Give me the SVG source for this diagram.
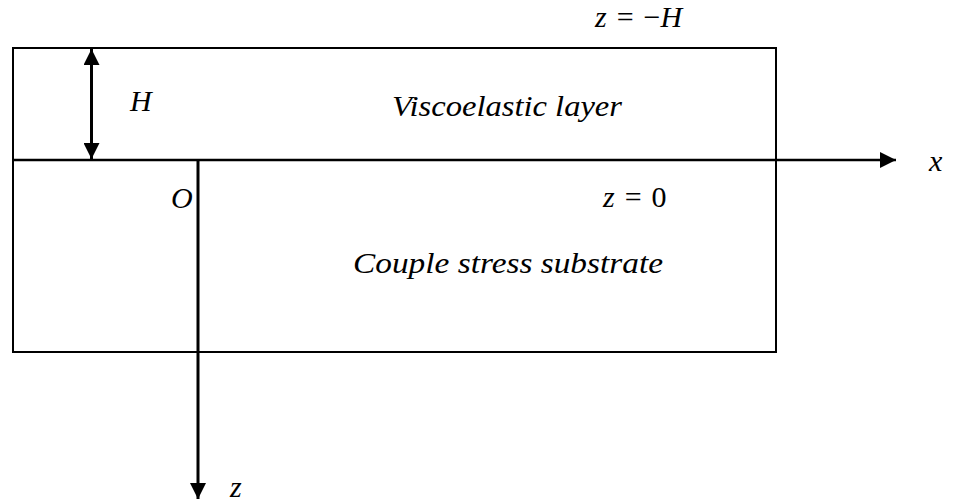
<svg xmlns="http://www.w3.org/2000/svg" width="953" height="503" viewBox="0 0 953 503">
<style>
.m{font-family:"Liberation Serif","DejaVu Serif",serif;font-style:italic;fill:#000;font-size:30px;}
.u{font-style:normal;}
.ln{stroke:#000;fill:none;}
</style>
<defs>
<marker id="ah" viewBox="0 0 16 16" refX="16" refY="8" markerWidth="16" markerHeight="16" markerUnits="userSpaceOnUse" orient="auto-start-reverse">
<path d="M0,0 L16,8 L0,16 Z" fill="#000"/>
</marker>
</defs>
<rect width="953" height="503" fill="#fff"/>
<g id="layer">
<rect class="ln" x="13" y="48" width="763" height="304" stroke-width="2"/>
<text class="m" x="392" y="116" textLength="230" lengthAdjust="spacingAndGlyphs">Viscoelastic layer</text>
</g>
<g id="substrate">
<text class="m" x="353" y="273" textLength="310" lengthAdjust="spacingAndGlyphs">Couple stress substrate</text>
</g>
<g id="connectors">
<line class="ln" x1="13" y1="160" x2="896" y2="160" stroke-width="2.5" marker-end="url(#ah)"/>
<line class="ln" x1="198" y1="160" x2="198" y2="499" stroke-width="3" marker-end="url(#ah)"/>
<line class="ln" x1="91.5" y1="49" x2="91.5" y2="159" stroke-width="3" marker-start="url(#ah)" marker-end="url(#ah)"/>
</g>
<g id="labels">
<text class="m" x="130" y="111">H</text>
<text class="m" x="171" y="208">O</text>
<text class="m" x="929" y="171">x</text>
<text class="m" x="230" y="497">z</text>
<text class="m" x="595" y="27">z<tspan class="u" dx="10">=</tspan><tspan class="u" dx="10">−</tspan><tspan>H</tspan></text>
<text class="m" x="603" y="207">z<tspan class="u" dx="10">=</tspan><tspan class="u" dx="10">0</tspan></text>
</g>
</svg>
